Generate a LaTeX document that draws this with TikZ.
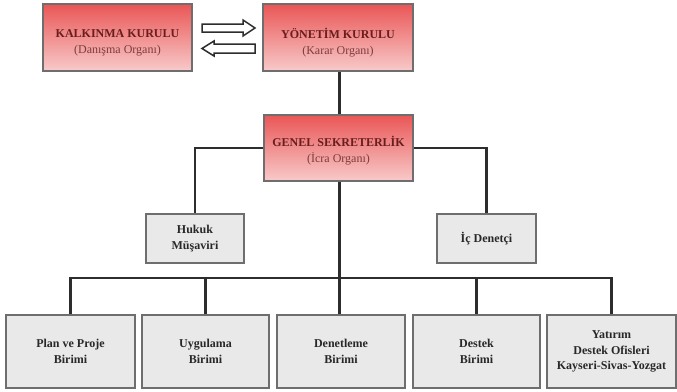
\documentclass[tikz,border=0pt]{standalone}
\usepackage{fontspec}
\setmainfont{Liberation Serif}
\definecolor{redtop}{RGB}{234,86,86}
\definecolor{redbot}{RGB}{248,202,202}
\definecolor{redtxt}{RGB}{105,30,30}
\definecolor{redsub}{RGB}{125,60,60}
\definecolor{boxedge}{RGB}{110,110,110}
\definecolor{greyfill}{RGB}{233,233,233}
\definecolor{greytxt}{RGB}{40,40,40}
\definecolor{linecol}{RGB}{45,45,45}
\begin{document}
\begin{tikzpicture}[x=1pt,y=-1pt,
  redbox/.style={rectangle, draw=boxedge, line width=1.3pt, top color=redtop, bottom color=redbot, inner sep=0pt},
  redtext/.style={align=center, inner sep=0pt, text=redtxt, font=\fontsize{12}{16}\selectfont},
  greybox/.style={rectangle, draw=boxedge, line width=1.3pt, fill=greyfill,
    align=center, inner sep=0pt, text=greytxt, font=\bfseries\fontsize{12}{15.5}\selectfont},
  conn/.style={draw=linecol, line width=2.2pt},
  blockarrow/.style={draw=linecol, line width=1.5pt, fill=white, line join=miter}]
\useasboundingbox (0,0) rectangle (677,391);
\fill[white] (0,0) rectangle (677,391);

\newcommand{\sub}[1]{{\color{redsub}#1}}

\node[redbox, minimum width=149pt, minimum height=67pt] (kal) at (117.5,37.5) {};
\node[redbox, minimum width=150pt, minimum height=67pt] (yon) at (338,37.5) {};
\node[redbox, minimum width=149pt, minimum height=66pt] (gen) at (338.5,148) {};
\node[redtext] (kalt) at ([yshift=-5pt]kal.center) {\textbf{KALKINMA KURULU}\\\sub{(Danışma Organı)}};
\node[redtext] (yont) at ([yshift=-5pt]yon.center) {\textbf{YÖNETİM KURULU}\\\sub{(Karar Organı)}};
\node[redtext] (gent) at ([yshift=-3pt]gen.center) {\textbf{GENEL SEKRETERLİK}\\\sub{(İcra Organı)}};

\node[greybox, minimum width=98pt, minimum height=49pt] (huk) at (195,238.5) {Hukuk\\Müşaviri};
\node[greybox, minimum width=99pt, minimum height=49pt] (ic) at (486.5,238.5) {İç Denetçi};

\node[greybox, minimum width=129pt, minimum height=73pt] (b1) at (70.5,351.5) {Plan ve Proje\\Birimi};
\node[greybox, minimum width=127pt, minimum height=73pt] (b2) at (205.5,351.5) {Uygulama\\Birimi};
\node[greybox, minimum width=128pt, minimum height=73pt] (b3) at (341,351.5) {Denetleme\\Birimi};
\node[greybox, minimum width=127pt, minimum height=73pt] (b4) at (476.5,351.5) {Destek\\Birimi};
\node[greybox, minimum width=129pt, minimum height=73pt] (b5) at (611.5,351.5) {Yatırım\\Destek Ofisleri\\Kayseri-Sivas-Yozgat};

% block arrows between the boards
\draw[blockarrow] (202,24) -- (243,24) -- (243,20) -- (255,28) -- (243,36) -- (243,32) -- (202,32) -- cycle;
\draw[blockarrow] (202,48.5) -- (214,41) -- (214,44) -- (255,44) -- (255,53) -- (214,53) -- (214,56) -- cycle;

% connectors
\coordinate (bus) at (339.5,278);
\draw[conn] (yon.south -| bus) -- (gen.north -| bus);
\draw[conn] (gen.west) -| (huk.north);
\draw[conn] (gen.east) -| (ic.north);
\draw[conn] (gen.south -| bus) -- (bus);
\draw[conn] (bus) -| (b1.north);
\draw[conn] (bus) -| (b2.north);
\draw[conn] (bus) -- (b3.north -| bus);
\draw[conn] (bus) -| (b4.north);
\draw[conn] (bus) -| (b5.north);
\end{tikzpicture}
\end{document}
